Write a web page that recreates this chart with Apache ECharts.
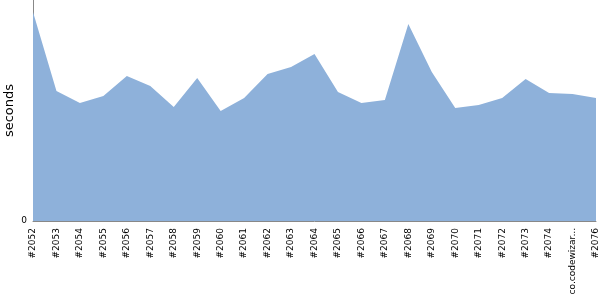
<!DOCTYPE html>
<html><head><meta charset="utf-8">
<script src="https://cdn.jsdelivr.net/npm/echarts@6/dist/echarts.min.js"></script>
<style>html,body{margin:0;padding:0;background:#fff}#c{width:600px;height:300px}</style>
</head><body><div id="c"></div>
<script>
var categories = ['#2052','#2053','#2054','#2055','#2056','#2057','#2058','#2059','#2060','#2061','#2062','#2063','#2064','#2065','#2066','#2067','#2068','#2069','#2070','#2071','#2072','#2073','#2074','co.codewizards.cloudstore','#2076'];
var seconds = [209,130,118,125,145,135,114,143,110,123,147,154,167,129,118,121,197,149,113,116,123,142,128,127,123];
var yTickLabels = ['0'];
var chart = echarts.init(document.getElementById('c'), null, {renderer:'canvas'});
chart.setOption({
  animation:false,
  grid:{left:33,right:4,top:0,bottom:79,containLabel:false,outerBoundsMode:'none'},
  xAxis:{type:'category',data:categories,boundaryGap:false,
    axisLine:{lineStyle:{color:'#888',width:1}},axisTick:{show:false},
    axisLabel:{rotate:90,interval:0,color:'#000',fontSize:9,fontFamily:'DejaVu Sans',margin:7,
      formatter:function(v){return v.length>14? v.slice(0,12)+'...':v;}},
    splitLine:{show:false}},
  yAxis:{type:'value',min:0,max:221,interval:221,name:'seconds',nameLocation:'middle',nameGap:17,
    nameMoveOverlap:false,
    nameTextStyle:{fontSize:13,fontFamily:'DejaVu Sans',color:'#000'},
    axisLine:{show:true,lineStyle:{color:'#888'}},axisTick:{show:false},splitLine:{show:false},
    axisLabel:{color:'#000',fontSize:9,fontFamily:'DejaVu Sans',margin:6,
      formatter:function(v){return yTickLabels.indexOf(String(v))>=0?String(v):'';}}},
  series:[{type:'line',data:seconds,symbol:'none',lineStyle:{width:0},
    areaStyle:{color:'#8EB1DA',opacity:1}}]
});
</script></body></html>
